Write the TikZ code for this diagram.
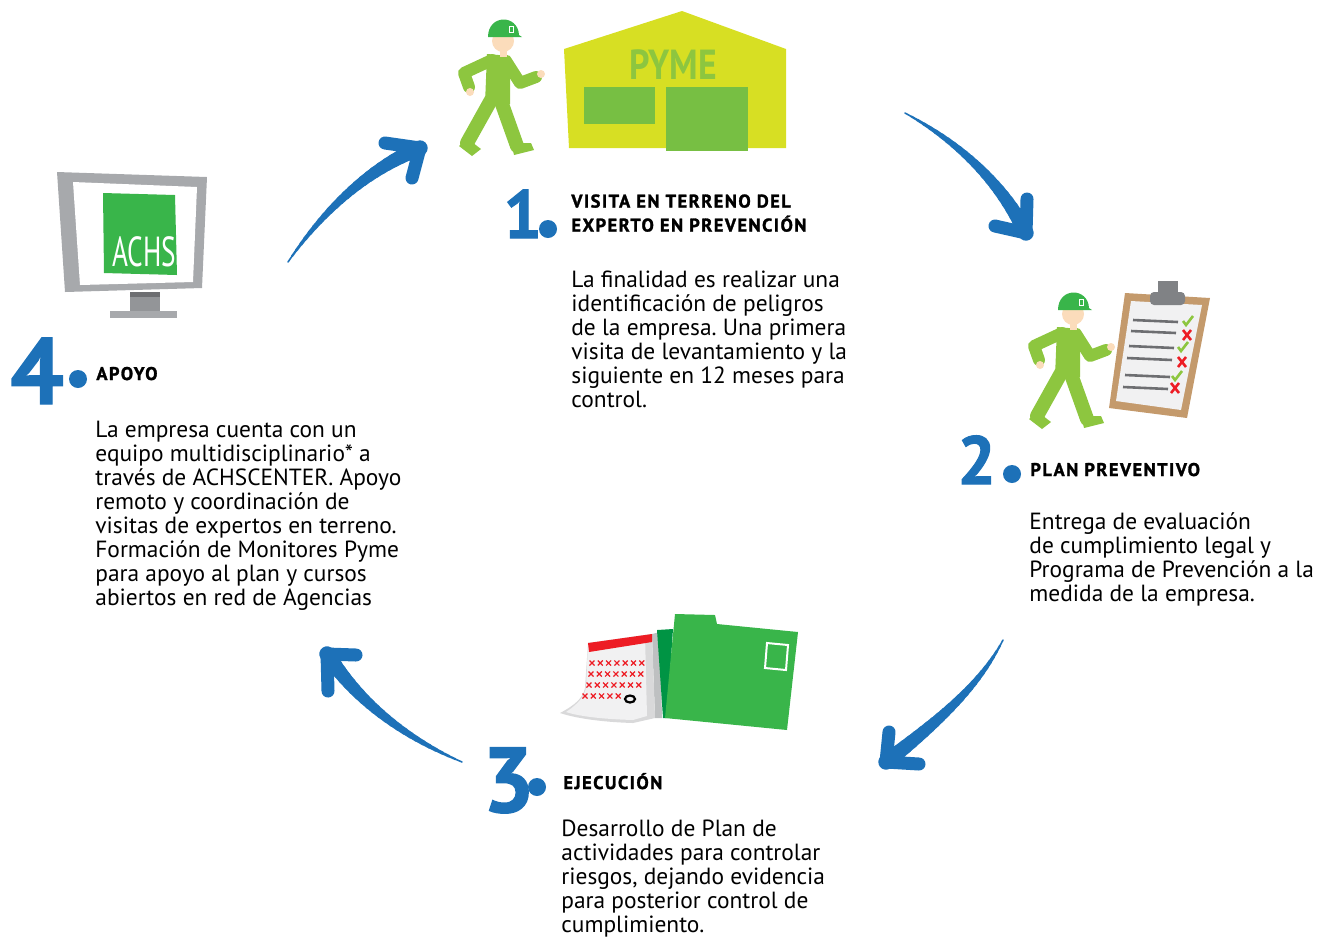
\documentclass[tikz,border=0pt]{standalone}
\usepackage{fontspec}
\setmainfont{PT Sans}
\newfontfamily\heavyfont{PT Sans}[UprightFont=* Bold, FakeBold=1.5]
\newfontfamily\titlefont{PT Sans}[UprightFont=* Bold, FakeBold=1.5, LetterSpace=8]
\newfontfamily\boldfont{PT Sans}[UprightFont=* Bold]
\usetikzlibrary{calc}
\frenchspacing

\definecolor{achsblue}{HTML}{1D71B8}
\definecolor{suitgreen}{HTML}{8DC63F}
\definecolor{helmetgreen}{HTML}{39B54A}
\definecolor{skintone}{HTML}{FBDCBB}
\definecolor{pymeyellow}{HTML}{D7DF23}
\definecolor{windowgreen}{HTML}{77BF43}
\definecolor{boardbrown}{HTML}{C49A6C}
\definecolor{papergray}{HTML}{F1F1F2}
\definecolor{clipgray}{HTML}{808285}
\definecolor{linegray}{HTML}{6D6E71}
\definecolor{crossred}{HTML}{ED1C24}
\definecolor{folderdark}{HTML}{009444}
\definecolor{framegray}{HTML}{A7A9AC}
\definecolor{standgray}{HTML}{939598}

% tapered brush stroke: tail, two controls, tip, two barbs
\newcommand{\brusharrow}[6]{
  \foreach \k in {0,...,24}
    \path (#1) .. controls (#2) and (#3) .. (#4) coordinate[pos=\k/24] (s\k);
  \foreach \k [remember=\k as \q (initially 0)] in {1,...,24}
    \draw[brush, line width=0.5pt+0.3pt*\k] (s\q) -- (s\k);
  \draw[brush, line width=6.5pt, line join=round] (#5) -- (#4) -- (#6);
}

\begin{document}
\begin{tikzpicture}[x=0.5pt, y=-0.5pt,
    num/.style={anchor=base west, inner sep=0pt, text=achsblue,
      font=\heavyfont\fontsize{#1}{#1}\selectfont},
    num/.default=34,
    stepdot/.style={circle, fill=achsblue, inner sep=0pt, minimum size=9pt},
    title/.style={inner sep=0pt, align=left, font=\titlefont\fontsize{9.2}{12}\selectfont},
    body/.style={anchor=north west, inner sep=0pt, align=left,
      font=\fontsize{11.7}{12}\selectfont},
    brush/.style={draw=achsblue, line cap=round},
    limb/.style={draw=suitgreen, line width=6pt, line cap=round, line join=round},
    xmark/.style={draw=crossred, line width=0.6pt},
    worker/.pic={
      % legs and shoes
      \draw[limb, line width=7pt] (491,100) -- (467,143);
      \draw[limb, line width=7pt] (502,104) -- (517,146);
      \fill[suitgreen] (459,146) -- (468,139) -- (481,149) -- (472,156) -- cycle;
      \fill[suitgreen] (511,143) -- (531,143) -- (534,150) -- (514,155) -- cycle;
      % body and arms
      \fill[suitgreen] (487,54) -- (510,56) -- (510,104) -- (485,104) -- cycle;
      \draw[limb] (492,60) -- (464,73) -- (469,87);
      \draw[limb] (506,61) -- (520,83) -- (536,77);
      \fill[skintone] (470,92) circle (4);
      \fill[skintone] (541,74) circle (4);
      % head and helmet
      \fill[skintone] (500,48) rectangle (507,57);
      \fill[skintone] (503,41) circle (11);
      \fill[helmetgreen] (488,37) .. controls (488,14) and (518,14) .. (519,35)
        -- (522,37) -- cycle;
      \draw[white, line width=0.4pt] (509,26) rectangle (513,32);
    }]

  \useasboundingbox (0,0) rectangle (1326,939);

  % --- step 1: visit ---
  \pic at (0,0) {worker};
  \fill[pymeyellow] (682,11) -- (786,49) -- (786,148) -- (569,148) -- (564,49) -- cycle;
  \node[text=suitgreen, font=\boldfont\fontsize{21}{21}\selectfont, xscale=0.85, inner sep=0pt]
    (PY) at (673,65) {PYME};
  \fill[windowgreen] (584,87) rectangle (655,124);
  \fill[windowgreen] (666,87) rectangle (748,151);

  \node[num] (N1) at (503,238) {1};
  \node[stepdot] (D1) at (548,229) {};
  \node[title, anchor=north west] (T1) at (571,194)
    {VISITA EN TERRENO DEL\\EXPERTO EN PREVENCIÓN};
  \node[body] (B1) at (571,271)
    {La finalidad es realizar una\\identificación de peligros\\de la empresa. Una primera\\
     visita de levantamiento y la\\siguiente en 12 meses para\\control.};

  % --- step 2: preventive plan ---
  \pic at (570,273) {worker};
  \fill[boardbrown] (1125,293) -- (1210,298) -- (1187,418) -- (1109,408) -- cycle;
  \fill[papergray] (1131,301) -- (1202,305) -- (1181,410) -- (1116,401) -- cycle;
  \fill[clipgray] (1158,281) rectangle (1178,293);
  \fill[clipgray, rounded corners=2pt] (1150,292) rectangle (1185,305);
  \foreach \y/\d in {320/0, 331/2, 346/4, 358/6, 375/8, 387/10}
    \draw[linegray, line width=1.3pt] (1133-\d,\y) -- (1178-\d,\y+2);
  \foreach \x/\y in {1188/321, 1183/347, 1177/376}
    \draw[suitgreen, line width=1.3pt] (\x-5,\y) -- (\x-2,\y+4) -- (\x+5,\y-5);
  \foreach \x/\y in {1187/335, 1182/362, 1175/388}
    \draw[crossred, line width=1.3pt] (\x-4,\y-5) -- (\x+4,\y+5) (\x-4,\y+5) -- (\x+4,\y-5);

  \node[num] (N2) at (957,484) {2};
  \node[stepdot] (D2) at (1012,474) {};
  \node[title, anchor=base west] (T2) at (1030,476) {PLAN PREVENTIVO};
  \node[body] (B2) at (1029,512)
    {Entrega de evaluación\\de cumplimiento legal y\\Programa de Prevención a la\\
     medida de la empresa.};

  % --- step 3: execution ---
  \fill[standgray!60] (652,634) -- (660,632) -- (662,718) -- (655,718) -- cycle;
  \fill[papergray!90!black] (588,643) -- (652,634) -- (655,718) -- (633,723)
    .. controls (600,722) and (575,718) .. (560,713)
    .. controls (575,705) and (583,698) .. (585,688) -- cycle;
  \fill[papergray] (588,643) -- (645,635) -- (647,716) -- (633,720)
    .. controls (600,719) and (578,716) .. (566,712)
    .. controls (578,704) and (584,697) .. (586,688) -- cycle;
  \fill[crossred] (588,643) -- (652,634) -- (652,642) -- (589,652) -- cycle;
  \foreach \y/\x/\n in {663/592/6, 674/591/6, 685/589/6, 696/585/4}
    \foreach \i in {0,...,\n}
      \draw[xmark] (\x+8.3*\i-2.5,\y-2.5) -- ++(5,5) (\x+8.3*\i-2.5,\y+2.5) -- ++(5,-5);
  \draw[line width=1.1pt] (630,699) ellipse (5 and 3.5);
  \fill[folderdark] (657,630) -- (673,629) -- (667,718) -- (663,718) -- cycle;
  \fill[helmetgreen] (675,614) -- (715,615) -- (717,624) -- (798,632) -- (787,730)
    -- (665,718) -- cycle;
  \draw[white, line width=1pt] (767,643) -- (788,645) -- (786,670) -- (765,668) -- cycle;

  \node[num=46] (N3) at (482,812) {3};
  \node[stepdot] (D3) at (537,787) {};
  \node[title, anchor=base west] (T3) at (563,789) {EJECUCIÓN};
  \node[body] (B3) at (561,820)
    {Desarrollo de Plan de\\actividades para controlar\\riesgos, dejando evidencia\\
     para posterior control de\\cumplimiento.};

  % --- step 4: support ---
  \fill[framegray] (57,172) -- (207,177) -- (202,288) -- (65,292) -- cycle;
  \fill[white] (73,182) -- (197,187) -- (193,282) -- (80,285) -- cycle;
  \fill[helmetgreen] (103,193) -- (175,195) -- (177,275) -- (104,273) -- cycle;
  \node[text=white, font=\fontsize{21}{21}\selectfont, xscale=0.65, inner sep=0pt]
    (AC) at (144,252) {ACHS};
  \fill[standgray] (130,292) rectangle (160,312);
  \fill[linegray] (130,292) rectangle (160,297);
  \fill[framegray] (110,311) rectangle (177,318);

  \node[num=47] (N4) at (10,404) {4};
  \node[stepdot] (D4) at (78,379) {};
  \node[title, anchor=base west] (T4) at (96,380) {APOYO};
  \node[body] (B4) at (95,421)
    {La empresa cuenta con un\\equipo multidisciplinario* a\\través de ACHSCENTER. Apoyo\\
     remoto y coordinación de\\visitas de expertos en terreno.\\Formación de Monitores Pyme\\
     para apoyo al plan y cursos\\abiertos en red de Agencias};

  % --- brush arrows between the steps ---
  \coordinate (A1s) at (905,113);  \coordinate (A1e) at (1026,233);
  \coordinate (A2s) at (1003,640); \coordinate (A2e) at (886,762);
  \coordinate (A3s) at (462,762);  \coordinate (A3e) at (327,654);
  \coordinate (A4s) at (288,262);  \coordinate (A4e) at (420,148);

  \brusharrow{A1s}{955,140}{1000,180}{A1e}{995,226}{1027,199}
  \brusharrow{A2s}{980,685}{940,720}{A2e}{889,732}{919,764}
  \brusharrow{A3s}{410,740}{360,705}{A3e}{356,655}{328,691}
  \brusharrow{A4s}{320,215}{365,170}{A4e}{385,143}{412,178}

\end{tikzpicture}
\end{document}
